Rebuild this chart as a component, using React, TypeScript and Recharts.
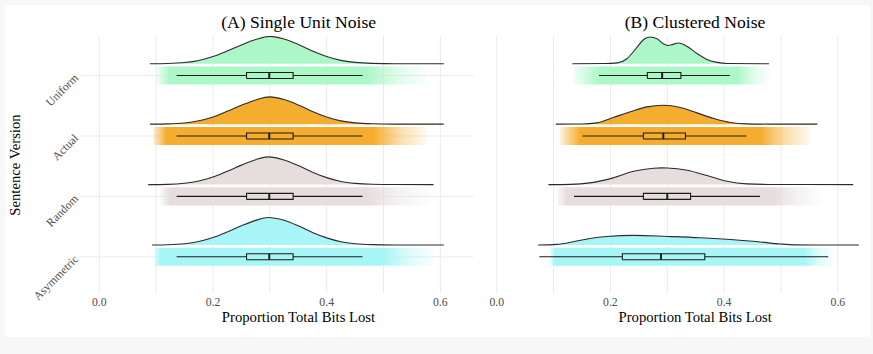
import React from 'react';
import { ComposedChart, Area, Line, XAxis, YAxis, CartesianGrid } from 'recharts';

// ---------- categories, ticks, colours ----------
const categories = ['Uniform', 'Actual', 'Random', 'Asymmetric'];
const fillColors = ['#abf7c8', '#f5ad2f', '#e6dedd', '#a8f5f7'];
const xTicks = [0, 0.1, 0.2, 0.3, 0.4, 0.5, 0.6];
const yTicks = [1, 2, 3, 4];

// ---------- Panel A: Single Unit Noise ----------
const aUniformDensX = [0.089, 0.12, 0.15, 0.175, 0.2, 0.225, 0.25, 0.275, 0.3, 0.325, 0.35, 0.375, 0.4, 0.425, 0.45, 0.48, 0.52, 0.606];
const aUniformDensH = [0, 0.004, 0.02, 0.055, 0.12, 0.21, 0.31, 0.4, 0.452, 0.41, 0.32, 0.21, 0.12, 0.055, 0.022, 0.006, 0.001, 0];
const aActualDensX = [0.089, 0.12, 0.15, 0.175, 0.2, 0.225, 0.25, 0.275, 0.3, 0.325, 0.35, 0.375, 0.4, 0.425, 0.45, 0.48, 0.52, 0.606];
const aActualDensH = [0, 0.004, 0.02, 0.056, 0.12, 0.212, 0.312, 0.4, 0.452, 0.408, 0.318, 0.21, 0.118, 0.054, 0.021, 0.006, 0.001, 0];
const aRandomDensX = [0.086, 0.12, 0.15, 0.175, 0.2, 0.225, 0.25, 0.275, 0.297, 0.325, 0.35, 0.375, 0.4, 0.425, 0.45, 0.48, 0.52, 0.588];
const aRandomDensH = [0, 0.004, 0.022, 0.06, 0.126, 0.22, 0.322, 0.412, 0.458, 0.408, 0.315, 0.205, 0.115, 0.052, 0.02, 0.005, 0.001, 0];
const aAsymDensX = [0.093, 0.12, 0.15, 0.175, 0.2, 0.225, 0.25, 0.275, 0.297, 0.325, 0.35, 0.375, 0.4, 0.425, 0.45, 0.48, 0.52, 0.606];
const aAsymDensH = [0, 0.004, 0.021, 0.058, 0.124, 0.216, 0.318, 0.408, 0.456, 0.41, 0.318, 0.208, 0.118, 0.054, 0.021, 0.006, 0.001, 0];

const aJitterMin = [0.101, 0.095, 0.107, 0.096];
const aJitterDenseMin = [0.124, 0.118, 0.124, 0.107];
const aJitterDenseMax = [0.47, 0.482, 0.47, 0.5];
const aJitterMax = [0.576, 0.576, 0.582, 0.587];

const aWhiskerLo = [0.136, 0.136, 0.136, 0.136];
const aQ1 = [0.259, 0.259, 0.259, 0.259];
const aMedian = [0.299, 0.299, 0.299, 0.299];
const aQ3 = [0.341, 0.341, 0.341, 0.341];
const aWhiskerHi = [0.463, 0.463, 0.463, 0.463];

// ---------- Panel B: Clustered Noise ----------
const bUniformDensX = [0.133, 0.19, 0.212, 0.229, 0.247, 0.258, 0.269, 0.282, 0.293, 0.301, 0.31, 0.32, 0.335, 0.353, 0.371, 0.388, 0.405, 0.479];
const bUniformDensH = [0, 0.003, 0.014, 0.083, 0.276, 0.397, 0.442, 0.414, 0.331, 0.303, 0.32, 0.343, 0.286, 0.165, 0.066, 0.022, 0.005, 0];
const bActualDensX = [0.104, 0.15, 0.176, 0.205, 0.235, 0.264, 0.293, 0.323, 0.352, 0.382, 0.411, 0.44, 0.48, 0.564];
const bActualDensH = [0, 0.003, 0.022, 0.111, 0.204, 0.286, 0.314, 0.276, 0.187, 0.094, 0.028, 0.005, 0.001, 0];
const bRandomDensX = [0.091, 0.13, 0.164, 0.205, 0.241, 0.276, 0.29, 0.3, 0.335, 0.37, 0.405, 0.44, 0.48, 0.627];
const bRandomDensH = [0, 0.004, 0.028, 0.111, 0.22, 0.27, 0.277, 0.275, 0.237, 0.149, 0.055, 0.012, 0.002, 0];
const bAsymDensX = [0.073, 0.09, 0.106, 0.135, 0.164, 0.194, 0.241, 0.3, 0.358, 0.417, 0.464, 0.499, 0.523, 0.56, 0.637];
const bAsymDensH = [0, 0.002, 0.01, 0.055, 0.109, 0.142, 0.159, 0.142, 0.121, 0.088, 0.05, 0.017, 0.003, 0, 0];

const bJitterMin = [0.135, 0.111, 0.106, 0.094];
const bJitterDenseMin = [0.182, 0.147, 0.123, 0.103];
const bJitterDenseMax = [0.423, 0.464, 0.487, 0.54];
const bJitterMax = [0.479, 0.552, 0.57, 0.593];

const bWhiskerLo = [0.18, 0.151, 0.136, 0.075];
const bQ1 = [0.265, 0.258, 0.258, 0.221];
const bMedian = [0.291, 0.293, 0.3, 0.289];
const bQ3 = [0.324, 0.332, 0.341, 0.366];
const bWhiskerHi = [0.41, 0.439, 0.463, 0.583];

// ---------- layout constants ----------
const FONT = '"Liberation Serif", "Times New Roman", serif';
const DENS_OFFSET = 0.195;
const BAND_HALF = 0.15;
const BOX_HALF = 0.05;
const Y_DOMAIN = [0.396, 4.654];

const catPos = (i: number) => 4 - i;

const XTick = (props: any) => {
  const { x, y, payload } = props;
  const v = payload.value as number;
  if (Math.round(v * 10) % 2 !== 0) return <g />;
  return (
    <text x={x} y={y} dy={5} textAnchor="middle" fill="#4d4d4d" fontSize={11.7} fontFamily={FONT}>
      {v.toFixed(1)}
    </text>
  );
};

const YTick = (props: any) => {
  const { x, y, payload } = props;
  const label = categories[4 - payload.value];
  return (
    <text
      transform={`translate(${x + 7},${y + 3}) rotate(-45)`}
      textAnchor="end"
      fill="#4d4d4d"
      fontSize={11.7}
      fontFamily={FONT}
    >
      {label}
    </text>
  );
};

type PanelProps = {
  id: string;
  width: number;
  margin: { top: number; right: number; bottom: number; left: number };
  xDomain: number[];
  densX: number[][];
  densH: number[][];
  jMin: number[];
  jDMin: number[];
  jDMax: number[];
  jMax: number[];
  lo: number[];
  q1: number[];
  med: number[];
  q3: number[];
  hi: number[];
  showY: boolean;
};

function renderPanel(p: PanelProps) {
  const grads: any[] = [];
  const areas: any[] = [];
  const lines: any[] = [];
  categories.forEach((_, i) => {
    const c = catPos(i);
    const col = fillColors[i];
    const span = p.jMax[i] - p.jMin[i];
    const f1 = (p.jDMin[i] - p.jMin[i]) / span;
    const f2 = (p.jDMax[i] - p.jMin[i]) / span;
    const gid = `jit-${p.id}-${i}`;
    grads.push(
      <linearGradient key={gid} id={gid} x1="0" y1="0" x2="1" y2="0">
        <stop offset={0} stopColor={col} stopOpacity={0.15} />
        <stop offset={f1} stopColor={col} stopOpacity={1} />
        <stop offset={f2} stopColor={col} stopOpacity={1} />
        <stop offset={(f2 + 1) / 2} stopColor={col} stopOpacity={0.4} />
        <stop offset={1} stopColor={col} stopOpacity={0.06} />
      </linearGradient>
    );
    areas.push(
      <Area
        key={`band-${i}`}
        data={[{ x: p.jMin[i], y: c + BAND_HALF }, { x: p.jMax[i], y: c + BAND_HALF }]}
        dataKey="y"
        baseValue={c - BAND_HALF}
        type="linear"
        stroke="none"
        fill={`url(#${gid})`}
        fillOpacity={1}
        dot={false}
        activeDot={false}
        isAnimationActive={false}
      />
    );
    const dens = p.densX[i].map((x, k) => ({ x, y: c + DENS_OFFSET + p.densH[i][k] }));
    areas.push(
      <Area
        key={`dens-${i}`}
        data={dens}
        dataKey="y"
        baseValue={c + DENS_OFFSET}
        type="monotone"
        stroke="#2b2b2b"
        strokeWidth={1.1}
        fill={col}
        fillOpacity={1}
        dot={false}
        activeDot={false}
        isAnimationActive={false}
      />
    );
    areas.push(
      <Area
        key={`boxfill-${i}`}
        data={[{ x: p.q1[i], y: c + BOX_HALF }, { x: p.q3[i], y: c + BOX_HALF }]}
        dataKey="y"
        baseValue={c - BOX_HALF}
        type="linear"
        stroke="none"
        fill={col}
        fillOpacity={1}
        dot={false}
        activeDot={false}
        isAnimationActive={false}
      />
    );
    const lineCommon = {
      dataKey: 'y',
      type: 'linear' as const,
      stroke: '#1a1a1a',
      dot: false,
      activeDot: false,
      isAnimationActive: false,
    };
    lines.push(
      <Line key={`wl-${i}`} {...lineCommon} strokeWidth={1.1}
        data={[{ x: p.lo[i], y: c }, { x: p.q1[i], y: c }]} />
    );
    lines.push(
      <Line key={`wh-${i}`} {...lineCommon} strokeWidth={1.1}
        data={[{ x: p.q3[i], y: c }, { x: p.hi[i], y: c }]} />
    );
    lines.push(
      <Line key={`box-${i}`} {...lineCommon} strokeWidth={1.1}
        data={[
          { x: p.q1[i], y: c - BOX_HALF },
          { x: p.q3[i], y: c - BOX_HALF },
          { x: p.q3[i], y: c + BOX_HALF },
          { x: p.q1[i], y: c + BOX_HALF },
          { x: p.q1[i], y: c - BOX_HALF },
        ]} />
    );
    lines.push(
      <Line key={`med-${i}`} {...lineCommon} strokeWidth={2}
        data={[{ x: p.med[i], y: c - BOX_HALF }, { x: p.med[i], y: c + BOX_HALF }]} />
    );
  });

  return (
    <ComposedChart width={p.width} height={354} margin={p.margin}>
      <defs>{grads}</defs>
      <CartesianGrid stroke="#ebebeb" strokeWidth={1} syncWithTicks />
      <XAxis
        type="number"
        dataKey="x"
        domain={p.xDomain}
        ticks={xTicks}
        interval={0}
        allowDataOverflow
        height={1}
        axisLine={false}
        tickLine={false}
        tick={<XTick />}
      />
      <YAxis
        type="number"
        dataKey="y"
        domain={Y_DOMAIN}
        ticks={yTicks}
        interval={0}
        allowDataOverflow
        width={1}
        axisLine={false}
        tickLine={false}
        tick={p.showY ? <YTick /> : false}
      />
      {areas}
      {lines}
    </ComposedChart>
  );
}

const textBase: React.CSSProperties = {
  position: 'absolute',
  fontFamily: FONT,
  color: '#000',
  whiteSpace: 'nowrap',
  textAlign: 'center',
};

export default function App() {
  return (
    <div style={{ position: 'absolute', left: 0, top: 0, width: 873, height: 354, background: '#f7f7f7', overflow: 'hidden' }}>
      <div style={{ position: 'absolute', left: 5, top: 5, width: 865, height: 332, background: '#ffffff' }} />
      <div style={{ position: 'absolute', left: 0, top: 0 }}>
        {renderPanel({
          id: 'A',
          width: 480,
          margin: { top: 36, right: 6.7, bottom: 59.7, left: 79 },
          xDomain: [-0.034, 0.658],
          densX: [aUniformDensX, aActualDensX, aRandomDensX, aAsymDensX],
          densH: [aUniformDensH, aActualDensH, aRandomDensH, aAsymDensH],
          jMin: aJitterMin, jDMin: aJitterDenseMin, jDMax: aJitterDenseMax, jMax: aJitterMax,
          lo: aWhiskerLo, q1: aQ1, med: aMedian, q3: aQ3, hi: aWhiskerHi,
          showY: true,
        })}
      </div>
      <div style={{ position: 'absolute', left: 480, top: 0 }}>
        {renderPanel({
          id: 'B',
          width: 393,
          margin: { top: 36, right: 5, bottom: 59.7, left: 6.3 },
          xDomain: [-0.0165, 0.653],
          densX: [bUniformDensX, bActualDensX, bRandomDensX, bAsymDensX],
          densH: [bUniformDensH, bActualDensH, bRandomDensH, bAsymDensH],
          jMin: bJitterMin, jDMin: bJitterDenseMin, jDMax: bJitterDenseMax, jMax: bJitterMax,
          lo: bWhiskerLo, q1: bQ1, med: bMedian, q3: bQ3, hi: bWhiskerHi,
          showY: false,
        })}
      </div>
      <div style={{ ...textBase, left: 148.7, width: 300, top: 11, lineHeight: '22px', fontSize: 17.6 }}>(A) Single Unit Noise</div>
      <div style={{ ...textBase, left: 545, width: 300, top: 11, lineHeight: '22px', fontSize: 17.6 }}>(B) Clustered Noise</div>
      <div style={{ ...textBase, left: 148.5, width: 300, top: 307, lineHeight: '20px', fontSize: 14.7 }}>Proportion Total Bits Lost</div>
      <div style={{ ...textBase, left: 545.2, width: 300, top: 307, lineHeight: '20px', fontSize: 14.7 }}>Proportion Total Bits Lost</div>
      <div
        style={{
          ...textBase,
          left: 15 - 100,
          width: 200,
          top: 164.7 - 10,
          lineHeight: '20px',
          fontSize: 14.7,
          transform: 'rotate(-90deg)',
        }}
      >
        Sentence Version
      </div>
    </div>
  );
}
